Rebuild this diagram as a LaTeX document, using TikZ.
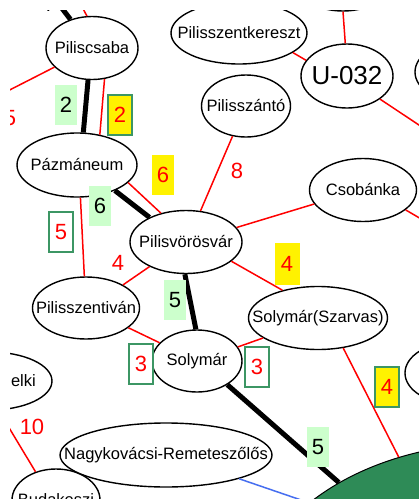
\documentclass[tikz,border=0pt]{standalone}
\usepackage{fontspec}
\setmainfont{Liberation Sans}
\usetikzlibrary{shapes.geometric}
\definecolor{lgreen}{HTML}{CCFFCC}
\definecolor{bordgreen}{RGB}{60,150,100}
\definecolor{seag}{RGB}{46,139,87}
\definecolor{eblue}{RGB}{70,110,240}
\begin{document}
\begin{tikzpicture}[x=1pt,y=-1pt,
  stn/.style={ellipse,draw=black,line width=1.4pt,fill=white,inner sep=0pt,
    font=\fontsize{16.5}{18}\selectfont},
  rail/.style={black,line width=5pt},
  redge/.style={red,line width=1.5pt},
  bedge/.style={eblue,line width=1.5pt},
  lab/.style={font=\fontsize{22}{24}\selectfont,inner sep=0pt,minimum width=22pt,minimum height=40pt},
  glab/.style={lab,fill=lgreen},
  ylab/.style={lab,fill=yellow,text=red},
  yblab/.style={ylab,draw=bordgreen,line width=1.5pt,minimum width=24pt},
  wblab/.style={lab,draw=bordgreen,line width=1.5pt,text=red,fill=white,minimum width=24pt},
  rlab/.style={font=\fontsize{22}{24}\selectfont,inner sep=0pt,text=red},
  klab/.style={font=\fontsize{22}{24}\selectfont,inner sep=0pt,text=black}
]
\useasboundingbox[fill=white] (0,0) rectangle (419,499);
\clip (10,10) rectangle (419,499);

% nodes
\node[stn,minimum width=92pt,minimum height=63pt] (pcs) at (92,48) {\makebox[0pt]{Piliscsaba}};
\node[stn,minimum width=120pt,minimum height=64pt] (paz) at (77,165) {\makebox[0pt]{Pázmáneum}};
\node[stn,minimum width=112pt,minimum height=63pt] (pvv) at (186,242) {\makebox[0pt]{Pilisvörösvár}};
\node[stn,minimum width=107pt,minimum height=62pt] (psi) at (86,308) {\makebox[0pt]{Pilisszentiván}};
\node[stn,minimum width=90pt,minimum height=62pt] (sol) at (197,361) {\makebox[0pt]{Solymár}};
\node[stn,minimum width=139pt,minimum height=63pt] (ssz) at (318,318) {\makebox[0pt]{Solymár(Szarvas)}};
\node[stn,minimum width=107pt,minimum height=63pt] (csb) at (363,190) {\makebox[0pt]{Csobánka}};
\node[stn,minimum width=89pt,minimum height=62pt] (psz) at (246,106) {\makebox[0pt]{Pilisszántó}};
\node[stn,minimum width=92pt,minimum height=64pt,font=\fontsize{26}{28}\selectfont] (u32) at (347,76) {\makebox[0pt]{U-032}};
\node[stn,minimum width=136pt,minimum height=62pt] (pkr) at (239,33) {\makebox[0pt]{Pilisszentkereszt}};
\node[stn,minimum width=100pt,minimum height=62pt] (topE) at (343,-20) {};
\node[stn,minimum width=100pt,minimum height=62pt] (rtE) at (465,72) {};
\node[stn,minimum width=100pt,minimum height=62pt] (rbE) at (455,373) {};
\node[stn,minimum width=124pt,minimum height=58pt] (elk) at (-10,381) {};
\node[font=\fontsize{16.5}{18}\selectfont,inner sep=0pt,anchor=east] (elktext) at (36,381) {elki};
\node[stn,minimum width=88pt,minimum height=62pt] (bud) at (56,500) {\makebox[0pt]{Budakeszi}};
\node[stn,minimum width=212pt,minimum height=64pt] (nrm) at (166,455) {\makebox[0pt]{Nagykovácsi-Remeteszőlős}};
\node[ellipse,draw=black,line width=1pt,fill=seag,inner sep=0pt,minimum width=500pt,minimum height=340pt] (bp) at (500,613) {};

% free ends
\coordinate (fTopK) at (48,-10);
\coordinate (fTopR) at (73,-10);
\coordinate (fLeft) at (-10,100);
\coordinate (fU) at (440,139);
\coordinate (fC) at (440,230);
\coordinate (fB) at (-10,396);

% edges
\begin{scope}[on background layer/.style={}]
\draw[rail] (fTopK) -- (pcs.127.6);
\draw[rail] (pcs.263) -- (paz.79.4);
\draw[rail] (paz.-34.8) -- (pvv.146.3);
\draw[rail] (pvv.268) -- (sol.92);
\draw[rail] (sol.-38.4) -- (bp.141.4);

\draw[redge] (fTopR) -- (pcs.99.5);
\draw[redge] (pcs.207.8) -- (fLeft);
\draw[redge] (pcs.-68.8) -- (paz.53.4);
\draw[redge] (paz.-19.4) -- (pvv.131.9);
\draw[redge] (paz.-84.6) -- (psi.93.7);
\draw[redge] (pvv.65) -- (psz.246.6);
\draw[redge] (pvv.16.4) -- (csb.196.7);
\draw[redge] (pvv.214.1) -- (psi.32.6);
\draw[redge] (pvv.-23.8) -- (ssz.142.4);
\draw[redge] (psi.-25.5) -- (sol.154);
\draw[redge] (sol.19.3) -- (ssz.200);
\draw[redge] (ssz.-50) -- (bp.123.6);
\draw[redge] (pkr.-20.7) -- (u32.159);
\draw[redge] (u32.93.6) -- (topE.270);
\draw[redge] (u32.-35.4) -- (fU);
\draw[redge] (csb.-25.5) -- (fC);
\draw[redge] (fB) -- (bud.126.9);
\draw[bedge] (nrm.-18.7) -- (bp.150.7);
\end{scope}

% redraw node outlines above edges
\foreach \n in {pcs,paz,pvv,psi,sol,ssz,csb,psz,u32,pkr,topE,rtE,rbE,elk,bud,nrm}{}

% labels
\node[klab] (l4top) at (46,4) {4};
\node[rlab] (l5left) at (10,118) {5};
\node[glab] (l2g) at (66,105) {2};
\node[yblab] (l2y) at (120,115) {2};
\node[ylab] (l6y) at (163,175) {6};
\node[glab] (l6g) at (100,206) {6};
\node[wblab] (l5w) at (61,232) {5};
\node[rlab] (l8) at (237,171) {8};
\node[rlab] (l4r) at (118,263) {4};
\node[ylab,minimum width=25pt,minimum height=42pt] (l4y) at (287,264) {4};
\node[glab] (l5g) at (175,300) {5};
\node[wblab] (l3a) at (141,364) {3};
\node[wblab] (l3b) at (257,367) {3};
\node[yblab] (l4yb) at (387,387) {4};
\node[glab] (l5g2) at (318,447) {5};
\node[rlab] (l10) at (32,427) {10};
\end{tikzpicture}
\end{document}
